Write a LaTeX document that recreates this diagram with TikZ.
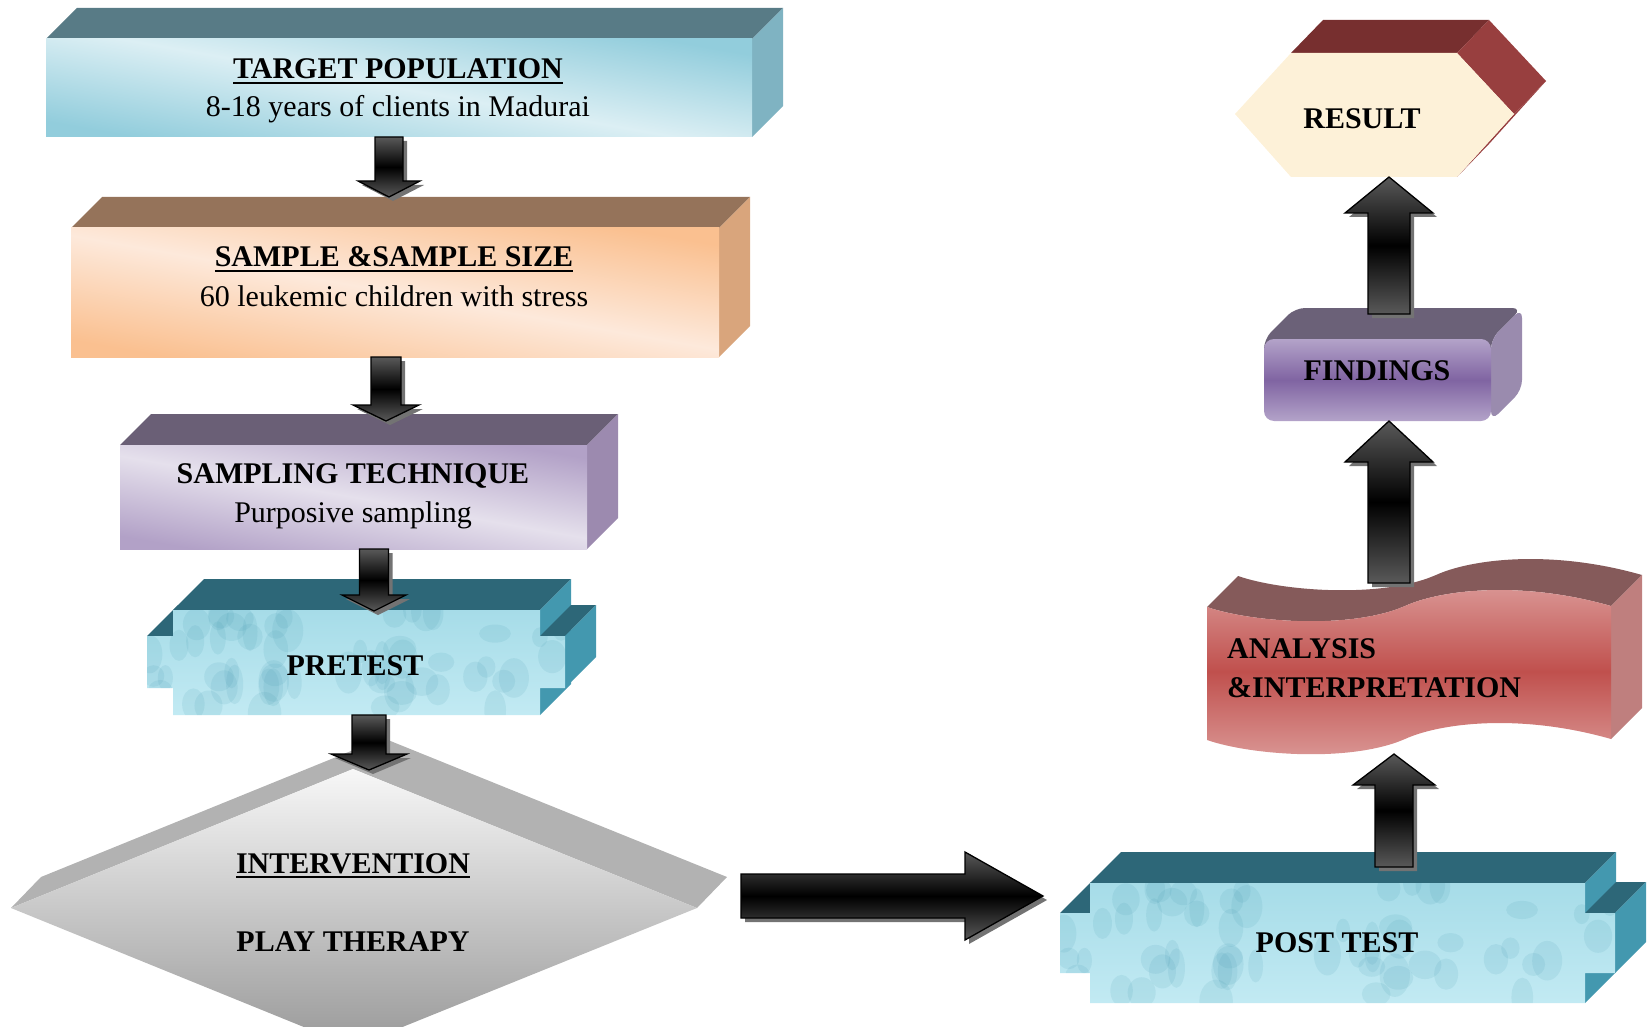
\documentclass[tikz,border=0pt]{standalone}
\usepackage{fontspec}
\setmainfont{Liberation Serif}
\usetikzlibrary{calc,shadows}

\definecolor{tgttop}{HTML}{587B86}
\definecolor{tgtside}{HTML}{7FB3C2}
\definecolor{tgtdk}{HTML}{92CDDC}
\definecolor{tgtlt}{HTML}{DCEFF4}
\definecolor{smptop}{HTML}{95735A}
\definecolor{smpside}{HTML}{D9A57C}
\definecolor{smpdk}{HTML}{FAC090}
\definecolor{smplt}{HTML}{FDE9DB}
\definecolor{tectop}{HTML}{6A5F76}
\definecolor{tecside}{HTML}{9C8AAF}
\definecolor{tecdk}{HTML}{B2A1C7}
\definecolor{teclt}{HTML}{E5E0EC}
\definecolor{wattop}{HTML}{2D6778}
\definecolor{watside}{HTML}{4398AF}
\definecolor{watlt}{HTML}{C2EAF3}
\definecolor{watdk}{HTML}{A6DCE8}
\definecolor{dmdband}{HTML}{B2B2B2}
\definecolor{anatop}{HTML}{855A5A}
\definecolor{anaside}{HTML}{BF7F7E}
\definecolor{anamid}{HTML}{C0504D}
\definecolor{analt}{HTML}{DB9A98}
\definecolor{fndtop}{HTML}{6B6178}
\definecolor{fndside}{HTML}{9A8BAE}
\definecolor{fndmid}{HTML}{8064A2}
\definecolor{fndlt}{HTML}{B3A3C9}
\definecolor{restop}{HTML}{772F2F}
\definecolor{resside}{HTML}{983F3F}
\definecolor{resfront}{HTML}{FDF1D8}

\newsavebox\ulinebox
\newcommand\ulbold[1]{\sbox\ulinebox{#1}\rlap{\rule[-5pt]{\wd\ulinebox}{2.2pt}}\usebox\ulinebox}
\newcommand\blockarrow[5]{%
  \coordinate (hb) at ($(#2)!#5!(#1)$);
  \draw[blockarr] ($(#1)!#3!90:(#2)$) -- ($(hb)!#3!90:(#2)$) -- ($(hb)!#4!90:(#2)$) -- (#2)
    -- ($(hb)!#4!-90:(#2)$) -- ($(hb)!#3!-90:(#2)$) -- ($(#1)!#3!-90:(#2)$) -- cycle;}

\begin{document}
\begin{tikzpicture}[x=1pt,y=-1pt,
  txt/.style={inner sep=0pt,anchor=base,font=\fontsize{30}{38}\selectfont},
  ttl/.style={txt,font=\fontsize{30}{38}\selectfont\bfseries},
  bandfront/.style 2 args={top color=#1,bottom color=#1,middle color=#2,shading angle=-10},
  waterfront/.style n args={4}{top color=watdk,bottom color=watlt,
    path picture={\pgfmathsetseed{11}\foreach \k in {1,...,60}
      {\fill[watside,opacity=.12] ({#1+(#3-#1)*rnd},{#2+(#4-#2)*rnd}) ellipse [x radius=7+10*rnd,y radius=9+13*rnd];}}},
  blockarr/.style={draw=black,line width=1.3pt,top color=black!65,bottom color=black!65,middle color=black,
    drop shadow={shadow xshift=4pt,shadow yshift=-4pt,fill=black!55,opacity=1}}]
\useasboundingbox (0,0) rectangle (1647,1027);

\fill[tgttop] (46,39) -- (77,8) -- (783,8) -- (752,39) -- cycle;
\fill[tgtside] (752,39) -- (783,8) -- (783,106) -- (752,137) -- cycle;
\shade[bandfront={tgtdk}{tgtlt}] (46,39) rectangle (752,137);
\node[ttl] (tgt) at (398,79) {\ulbold{TARGET POPULATION}};
\node[txt] (tgt-sub) at (398,117) {8-18 years of clients in Madurai};

\fill[smptop] (71,228) -- (102,197) -- (750,197) -- (719,228) -- cycle;
\fill[smpside] (719,228) -- (750,197) -- (750,326) -- (719,357) -- cycle;
\shade[bandfront={smpdk}{smplt}] (71,228) rectangle (719,357);
\node[ttl] (smp) at (394,267) {\ulbold{SAMPLE \&SAMPLE SIZE}};
\node[txt] (smp-sub) at (394,306) {60 leukemic children with stress};

\fill[tectop] (120,445) -- (151,414) -- (618,414) -- (587,445) -- cycle;
\fill[tecside] (587,445) -- (618,414) -- (618,518) -- (587,549) -- cycle;
\shade[bandfront={tecdk}{teclt}] (120,445) rectangle (587,549);
\node[ttl] (tec) at (353,483) {SAMPLING TECHNIQUE};
\node[txt] (tec-sub) at (353,522) {Purposive sampling};

\fill[wattop] (147,636) -- (178,605) -- (204,605) -- (173,636) -- cycle;
\fill[wattop] (173,610) -- (204,579) -- (571,579) -- (540,610) -- cycle;
\fill[watside] (540,610) -- (571,579) -- (571,684) -- (540,715) -- cycle;
\fill[wattop] (540,636) -- (571,605) -- (596,605) -- (565,636) -- cycle;
\fill[watside] (565,636) -- (596,605) -- (596,657) -- (565,688) -- cycle;
\shade[waterfront={147}{610}{565}{715}] (147,636) -- (173,636) -- (173,610) -- (540,610) -- (540,636) -- (565,636)
  -- (565,688) -- (540,688) -- (540,715) -- (173,715) -- (173,688) -- (147,688) -- cycle;
\node[ttl] (pre) at (355,675) {PRETEST};

\begin{scope}
\clip (0,0) rectangle (1647,1027);
\fill[dmdband] (11,908) -- (41,877) -- (383,738) -- (727,877) -- (697,908) -- (353,769) -- cycle;
\shade[top color=black!3,bottom color=black!40] (353,769) -- (697,908) -- (353,1047) -- (11,908) -- cycle;
\end{scope}
\node[ttl] (intv) at (353,873) {\ulbold{INTERVENTION}};
\node[ttl] (play) at (353,951) {PLAY THERAPY};

\fill[wattop] (1060,913) -- (1091,882) -- (1121,882) -- (1090,913) -- cycle;
\fill[wattop] (1090,883) -- (1121,852) -- (1616,852) -- (1585,883) -- cycle;
\fill[watside] (1585,883) -- (1616,852) -- (1616,972) -- (1585,1003) -- cycle;
\fill[wattop] (1585,913) -- (1616,882) -- (1646,882) -- (1615,913) -- cycle;
\fill[watside] (1615,913) -- (1646,882) -- (1646,942) -- (1615,973) -- cycle;
\shade[waterfront={1060}{883}{1615}{1003}] (1060,913) -- (1090,913) -- (1090,883) -- (1585,883) -- (1585,913) -- (1615,913)
  -- (1615,973) -- (1585,973) -- (1585,1003) -- (1090,1003) -- (1090,973) -- (1060,973) -- cycle;
\node[ttl] (post) at (1337,952) {POST TEST};

\fill[anatop] (1207,607) .. controls (1250,622) and (1350,630) .. (1405,606) .. controls (1440,590) and (1520,580) .. (1611,606)
  -- (1642,575) .. controls (1551,549) and (1471,559) .. (1436,575) .. controls (1381,599) and (1281,591) .. (1238,576) -- cycle;
\fill[anaside] (1611,606) -- (1642,575) -- (1642,708) -- (1611,739) -- cycle;
\shade[top color=analt,bottom color=analt,middle color=anamid] (1207,607) .. controls (1250,622) and (1350,630) .. (1405,606)
  .. controls (1440,590) and (1520,580) .. (1611,606) -- (1611,739) .. controls (1520,713) and (1440,723) .. (1405,739)
  .. controls (1350,763) and (1250,755) .. (1207,740) -- cycle;
\node[ttl,anchor=base west] (ana) at (1227,658) {ANALYSIS};
\node[ttl,anchor=base west] (ana-sub) at (1227,697) {\&INTERPRETATION};

\fill[fndtop,rounded corners=10] (1264,360) -- (1264,339) -- (1295,308) -- (1522,308) -- (1491,339) -- (1491,360) -- cycle;
\fill[fndside,rounded corners=10] (1491,339) -- (1522,308) -- (1522,390) -- (1491,421) -- cycle;
\shade[top color=fndlt,bottom color=fndlt,middle color=fndmid,rounded corners=10] (1264,339) rectangle (1491,421);
\node[ttl] (fnd) at (1377,380) {FINDINGS};

\fill[restop] (1291,53) -- (1457,53) -- (1489,20) -- (1323,20) -- cycle;
\fill[resside] (1457,53) -- (1514,114) -- (1546,81) -- (1489,20) -- cycle;
\fill[resside] (1514,114) -- (1457,177) -- (1489,144) -- (1546,81) -- cycle;
\fill[resfront] (1235,114) -- (1291,53) -- (1457,53) -- (1514,114) -- (1457,177) -- (1291,177) -- cycle;
\node[ttl] (res) at (1362,129) {RESULT};

\coordinate (tgt-b) at (389,137);
\coordinate (smp-t) at (389,197);
\coordinate (smp-b) at (386,357);
\coordinate (tec-t) at (386,421);
\coordinate (tec-b) at (374,549);
\coordinate (pre-t) at (374,611);
\coordinate (pre-b) at (369,715);
\coordinate (intv-t) at (369,770);
\coordinate (intv-e) at (741,896);
\coordinate (post-w) at (1043,896);
\coordinate (post-n) at (1394,867);
\coordinate (ana-s) at (1394,754);
\coordinate (ana-n) at (1389,583);
\coordinate (fnd-s) at (1389,421);
\coordinate (fnd-n) at (1389,314);
\coordinate (res-s) at (1389,177);

\blockarrow{tgt-b}{smp-t}{14pt}{31pt}{16pt}
\blockarrow{smp-b}{tec-t}{15pt}{33pt}{16pt}
\blockarrow{tec-b}{pre-t}{14.5pt}{32pt}{16pt}
\blockarrow{pre-b}{intv-t}{17pt}{38pt}{16pt}
\blockarrow{intv-e}{post-w}{22pt}{44pt}{78pt}
\blockarrow{post-n}{ana-s}{19pt}{41pt}{31pt}
\blockarrow{ana-n}{fnd-s}{21pt}{44pt}{41pt}
\blockarrow{fnd-n}{res-s}{21pt}{44pt}{36pt}
\end{tikzpicture}
\end{document}
